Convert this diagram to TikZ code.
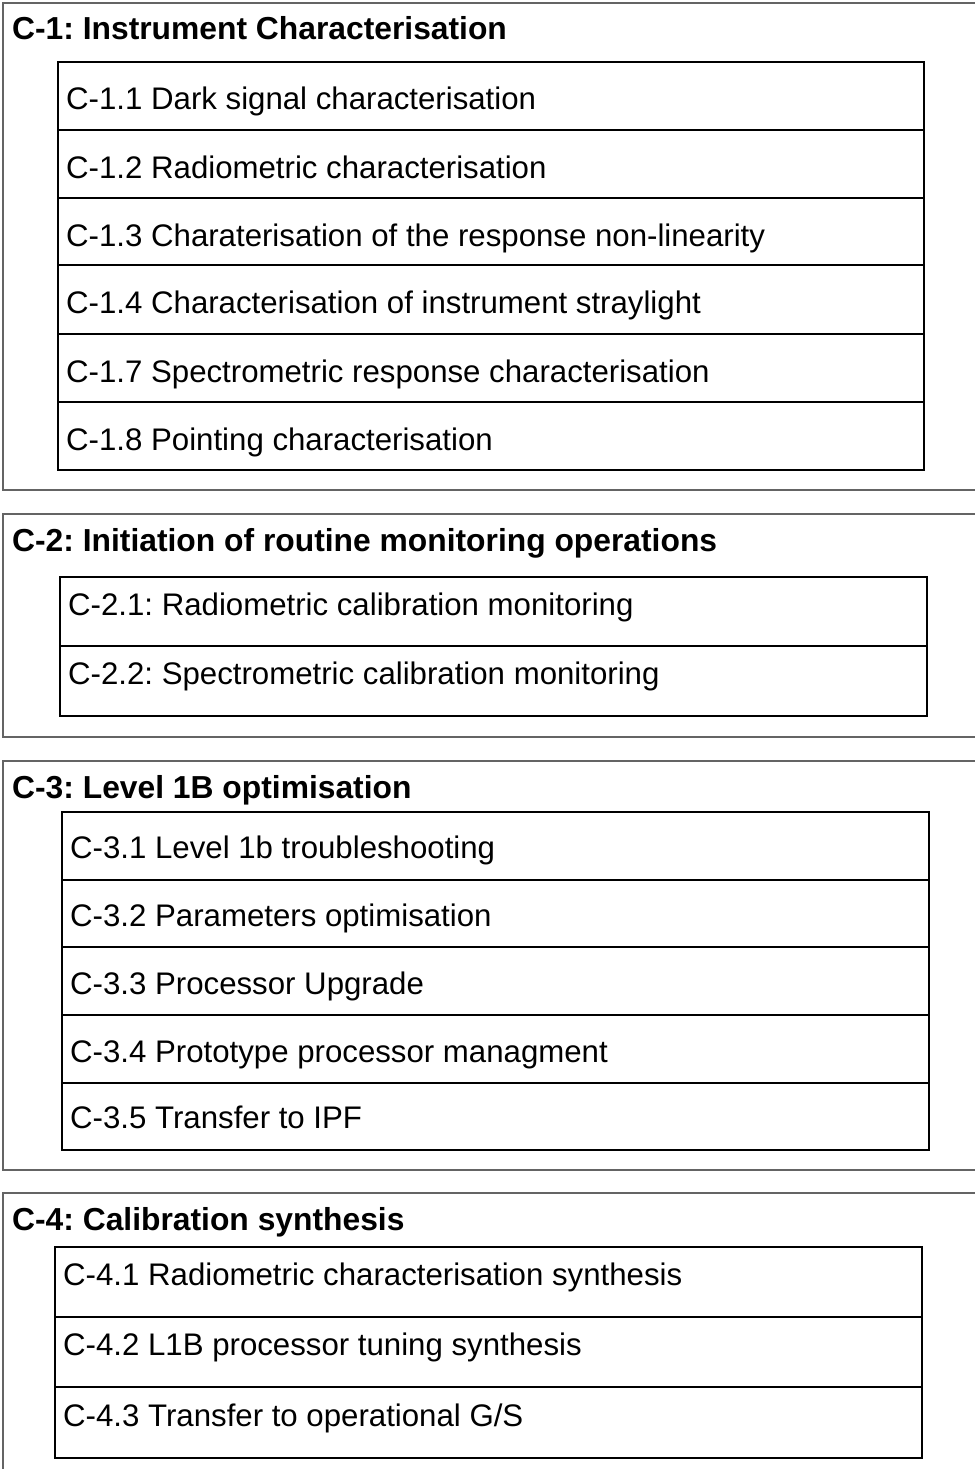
\documentclass[tikz,border=0pt]{standalone}
\usepackage{fontspec}
\setmainfont{Liberation Sans}
\frenchspacing
\definecolor{framegray}{RGB}{100,100,100}

\begin{document}
\begin{tikzpicture}[x=1pt,y=-1pt,
    frame/.style={framegray, line width=1.4pt},
    box/.style={black, line width=1.2pt},
    head/.style={anchor=base west, inner sep=0pt, font=\fontsize{31.8}{36}\selectfont\bfseries},
    item/.style={anchor=base west, inner sep=0pt, font=\fontsize{31.2}{36}\selectfont}]
    \useasboundingbox (0,0) rectangle (974,1469);
    % C-1
    \draw[frame] (990,3) -- (3,3) -- (3,490) -- (990,490);
    \node[head] (c1) at (12,40) {C-1: Instrument Characterisation};
    \draw[box] (58,62) rectangle (924,470);
    \draw[box] (58,130) -- (924,130);
    \draw[box] (58,198) -- (924,198);
    \draw[box] (58,265) -- (924,265);
    \draw[box] (58,334) -- (924,334);
    \draw[box] (58,402) -- (924,402);
    \node[item] (c11) at (66,110) {C-1.1 Dark signal characterisation};
    \node[item] (c12) at (66,178) {C-1.2 Radiometric characterisation};
    \node[item] (c13) at (66,246) {C-1.3 Charaterisation of the response non-linearity};
    \node[item] (c14) at (66,313) {C-1.4 Characterisation of instrument straylight};
    \node[item] (c17) at (66,382) {C-1.7 Spectrometric response characterisation};
    \node[item] (c18) at (66,450) {C-1.8 Pointing characterisation};
    % C-2
    \draw[frame] (990,514) -- (3,514) -- (3,737) -- (990,737);
    \node[head] (c2) at (12,551) {C-2: Initiation of routine monitoring operations};
    \draw[box] (60,577) rectangle (927,716);
    \draw[box] (60,646) -- (927,646);
    \node[item] (c21) at (68,615) {C-2.1: Radiometric calibration monitoring};
    \node[item] (c22) at (68,684) {C-2.2: Spectrometric calibration monitoring};
    % C-3
    \draw[frame] (990,761) -- (3,761) -- (3,1170) -- (990,1170);
    \node[head] (c3) at (12,798) {C-3: Level 1B optimisation};
    \draw[box] (62,812) rectangle (929,1150);
    \draw[box] (62,880) -- (929,880);
    \draw[box] (62,947) -- (929,947);
    \draw[box] (62,1015) -- (929,1015);
    \draw[box] (62,1083) -- (929,1083);
    \node[item] (c31) at (70,858) {C-3.1 Level 1b troubleshooting};
    \node[item] (c32) at (70,926) {C-3.2 Parameters optimisation};
    \node[item] (c33) at (70,994) {C-3.3 Processor Upgrade};
    \node[item] (c34) at (70,1062) {C-3.4 Prototype processor managment};
    \node[item] (c35) at (70,1128) {C-3.5 Transfer to IPF};
    % C-4
    \draw[frame] (990,1193) -- (3,1193) -- (3,1490);
    \node[head] (c4) at (12,1230) {C-4: Calibration synthesis};
    \draw[box] (55,1247) rectangle (922,1458);
    \draw[box] (55,1317) -- (922,1317);
    \draw[box] (55,1387) -- (922,1387);
    \node[item] (c41) at (63,1285) {C-4.1 Radiometric characterisation synthesis};
    \node[item] (c42) at (63,1355) {C-4.2 L1B processor tuning synthesis};
    \node[item] (c43) at (63,1426) {C-4.3 Transfer to operational G/S};
\end{tikzpicture}
\end{document}
